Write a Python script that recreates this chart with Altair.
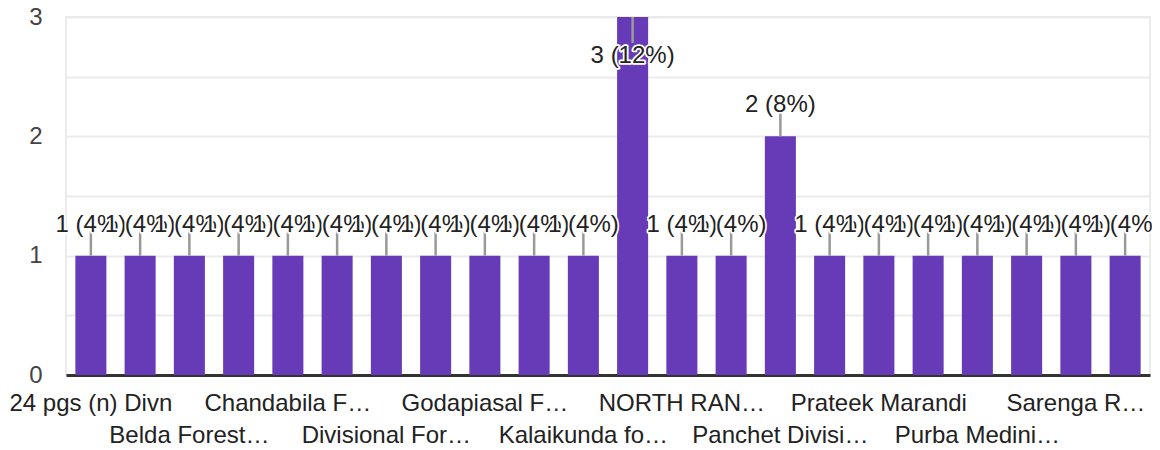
import json
import altair as alt
import pandas as pd

# ---- data ----
categories = [
    "24 pgs (n) Divn", "Bankura North Division", "Belda Forest Range",
    "Bhupatinagar Range", "Chandabila Forest Range", "DFO Jhargram",
    "Divisional Forest Office", "Durgapur Division", "Godapiasal Forest Range",
    "Jhargram Division", "Kalaikunda forest range", "Midnapore Division",
    "NORTH RANGE", "Office of the DFO", "Panchet Division",
    "Paschim Medinipur Division", "Prateek Marandi", "Pratyush Range",
    "Purba Medinipur Division", "Rupnarayan Division", "Sarenga Range Office",
    "West Midnapore Division",
]
counts = [1, 1, 1, 1, 1, 1, 1, 1, 1, 1, 1, 3, 1, 1, 2, 1, 1, 1, 1, 1, 1, 1]
tick_labels = [
    "24 pgs (n) Divn", "", "Belda Forest…", "", "Chandabila F…", "",
    "Divisional For…", "", "Godapiasal F…", "", "Kalaikunda fo…", "",
    "NORTH RAN…", "", "Panchet Divisi…", "", "Prateek Marandi", "",
    "Purba Medini…", "", "Sarenga R…", "",
]

df = pd.DataFrame({"category": categories, "count": counts})

# staggered two-row tick labels (every other category shown)
rows = []
for i, lab in enumerate(tick_labels):
    if i % 4 == 0:
        rows.append(lab)
    elif i % 4 == 2:
        rows.append(["", lab])
    else:
        rows.append("")
label_expr = (
    json.dumps(rows, ensure_ascii=False)
    + "[indexof(" + json.dumps(categories, ensure_ascii=False) + ", datum.value)]"
)

FONT = "Liberation Sans, Arial, sans-serif"
PURPLE = "#673ab7"

x_enc = alt.X(
    "category:N",
    sort=categories,
    scale=alt.Scale(paddingInner=0.37, paddingOuter=0.19),
    axis=alt.Axis(
        title=None, labelAngle=0, labelExpr=label_expr, labelFontSize=24,
        labelColor="#222222", labelFont=FONT, labelPadding=16,
        labelLineHeight=32, ticks=False, tickSize=0, domainColor="#333333",
        domainWidth=3, labelOverlap=False, labelLimit=0, grid=False,
    ),
)
y_enc = alt.Y(
    "count:Q",
    scale=alt.Scale(domain=[0, 3], nice=False),
    axis=alt.Axis(
        title=None, values=[0, 0.5, 1, 1.5, 2, 2.5, 3],
        labelExpr="datum.value % 1 == 0 ? format(datum.value, 'd') : ''",
        labelFontSize=24, labelColor="#444444", labelFont=FONT,
        labelPadding=24, ticks=False, tickSize=0, domain=False,
        gridColor="#ebebeb", gridWidth=2,
    ),
)

base = (
    alt.Chart(df)
    .transform_joinaggregate(total="sum(count)", maxc="max(count)")
    .transform_window(idx="row_number()")
    .transform_calculate(
        lbl="datum.count + ' (' + round(datum.count / datum.total * 100) + '%)'"
    )
)

bars = alt.Chart(df).mark_bar(color=PURPLE).encode(x=x_enc, y=y_enc)

rule_low = (
    base.transform_filter("datum.count < datum.maxc")
    .mark_rule(color="#999999", strokeWidth=2.5, y2Offset=-24)
    .encode(x=x_enc, y=y_enc, y2="count:Q")
)
rule_top = (
    base.transform_filter("datum.count == datum.maxc")
    .mark_rule(color="#999999", strokeWidth=2.5, y2Offset=26)
    .encode(x=x_enc, y=y_enc, y2="count:Q")
)


def label_layer(filt, dy):
    return (
        base.transform_filter(filt)
        .transform_calculate(passes="[0, 1]")
        .transform_flatten(["passes"])
        .transform_calculate(ord="datum.idx * 2 + datum.passes")
        .mark_text(fontSize=24, font=FONT, baseline="alphabetic", align="center",
                   dy=dy, strokeJoin="round")
        .encode(
            x=x_enc,
            y=y_enc,
            text="lbl:N",
            fill=alt.condition("datum.passes == 0", alt.value("white"),
                               alt.value("#222222")),
            stroke=alt.condition("datum.passes == 0", alt.value("white"),
                                 alt.value("transparent")),
            strokeWidth=alt.condition("datum.passes == 0", alt.value(3.5),
                                      alt.value(0)),
            order=alt.Order("ord:Q"),
        )
    )


text_low = label_layer("datum.count < datum.maxc", -24)
text_top = label_layer("datum.count == datum.maxc", 46)

chart = (
    alt.layer(bars, rule_low, rule_top, text_low, text_top)
    .properties(
        width=1084,
        height=358,
        autosize=alt.AutoSizeParams(type="none"),
        padding={"left": 58, "top": 9, "right": 2, "bottom": 73},
    )
    .configure_view(stroke="#ebebeb", strokeWidth=2)
)

chart.save("out.html", embed_options={"renderer": "svg", "actions": False})
